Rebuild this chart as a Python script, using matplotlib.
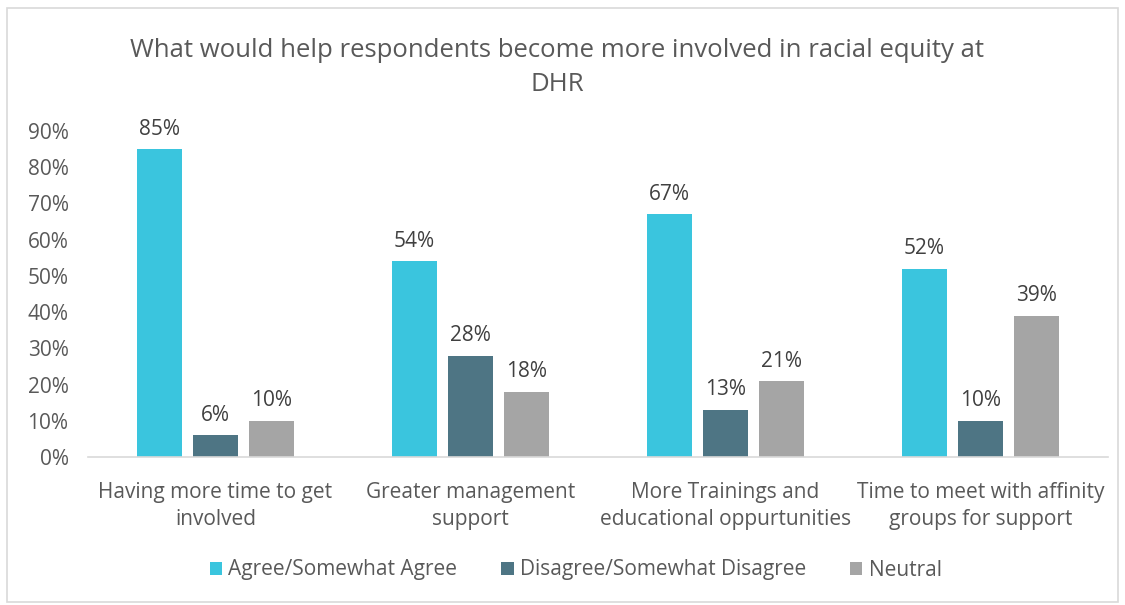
import matplotlib.pyplot as plt
import numpy as np
from matplotlib.patches import Rectangle

categories = ['Having more time to get\ninvolved', 'Greater management\nsupport',
              'More Trainings and\neducational oppurtunities', 'Time to meet with affinity\ngroups for support']
agree = [85, 54, 67, 52]
disagree = [6, 28, 13, 10]
neutral = [10, 18, 21, 39]
series_names = ['Agree/Somewhat Agree', 'Disagree/Somewhat Disagree', 'Neutral']
colors = ['#3AC5DE', '#4E7584', '#A5A5A5']
yticks = [0, 10, 20, 30, 40, 50, 60, 70, 80, 90]

txt = '#595959'
plt.rcParams['font.family'] = ['Open Sans', 'DejaVu Sans']

fig = plt.figure(figsize=(11.25, 6.05), dpi=100)
# light frame around the chart
fig.patches.append(Rectangle((0.006, 0.005), 0.988, 0.982, transform=fig.transFigure,
                             fill=False, edgecolor='#D9D9D9', linewidth=1.2))

ax = fig.add_axes([88 / 1125, 1 - 457 / 605, 1020 / 1125, 326 / 605])
x = np.arange(len(categories))
w = 0.176
off = 0.22
for i, (vals, c, name) in enumerate(zip([agree, disagree, neutral], colors, series_names)):
    bars = ax.bar(x + (i - 1) * off, vals, width=w, color=c, label=name)
    for b, v in zip(bars, vals):
        ax.text(b.get_x() + b.get_width() / 2, v + 2.6, f'{v}%', ha='center', va='bottom',
                fontsize=15, color='#404040')

ax.set_xlim(-0.5, 3.5)
ax.set_ylim(0, 90)
ax.set_yticks(yticks)
ax.set_yticklabels([f'{t}%' for t in yticks], fontsize=15, color=txt)
ax.set_xticks(x)
ax.set_xticklabels(categories, fontsize=15, color=txt, linespacing=1.4)
ax.tick_params(length=0)
ax.tick_params(axis='y', pad=14)
ax.tick_params(axis='x', pad=18)
for s in ['top', 'right', 'left']:
    ax.spines[s].set_visible(False)
ax.spines['bottom'].set_color('#D9D9D9')
ax.spines['bottom'].set_linewidth(1.2)

fig.text(0.495, 0.888, 'What would help respondents become more involved in racial equity at\nDHR',
         ha='center', va='center', fontsize=18.5, color=txt, linespacing=1.45)

ax.legend(loc='center', bbox_to_anchor=(0.478, 1 - (570 - 131) / 326), ncol=3,
          frameon=False, fontsize=15, labelcolor=txt, handlelength=0.6, handleheight=0.6,
          handletextpad=0.3, columnspacing=2.1)

fig.savefig('out.png', dpi=100)
